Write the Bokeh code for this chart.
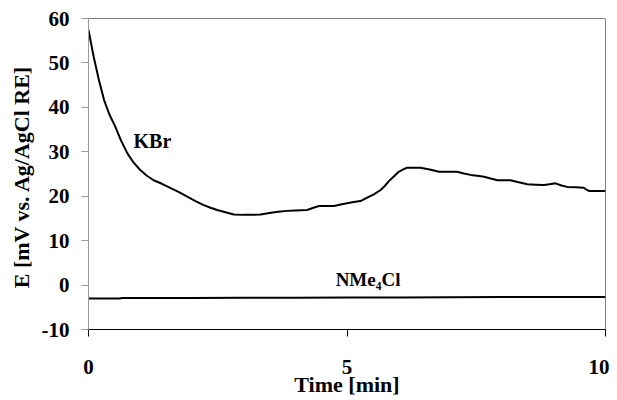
from bokeh.plotting import figure
from bokeh.models import Range1d, FixedTicker, Span, Label
from bokeh.embed import file_html
from bokeh.resources import INLINE

# KBr potential trace
kbr_time = [0, 0.1, 0.2, 0.3, 0.4, 0.52, 0.63, 0.75, 0.87, 1.0, 1.13, 1.26, 1.42, 1.59,
            1.75, 1.91, 2.07, 2.23, 2.36, 2.49, 2.65, 2.81, 3.0, 3.2, 3.33, 3.5, 3.67,
            3.84, 4.0, 4.23, 4.35, 4.46, 4.6, 4.75, 4.9, 5.0, 5.13, 5.26, 5.39, 5.52,
            5.65, 5.73, 5.81, 5.9, 6.0, 6.08, 6.16, 6.3, 6.42, 6.6, 6.78, 6.95, 7.13,
            7.26, 7.39, 7.52, 7.65, 7.78, 7.91, 8.05, 8.16, 8.3, 8.49, 8.65, 8.81, 8.92,
            9.03, 9.15, 9.26, 9.42, 9.58, 9.63, 9.68, 9.85, 10.0]
kbr_e = [57.4, 51.4, 46.2, 41.7, 38.5, 35.6, 32.5, 29.7, 27.6, 25.9, 24.6, 23.6, 22.8, 21.8,
         20.9, 19.9, 18.9, 18.0, 17.4, 16.9, 16.4, 15.9, 15.8, 15.8, 15.9, 16.2, 16.5,
         16.7, 16.8, 16.9, 17.4, 17.8, 17.8, 17.8, 18.2, 18.4, 18.7, 18.9, 19.7, 20.4,
         21.4, 22.3, 23.4, 24.4, 25.5, 26.0, 26.4, 26.4, 26.4, 26.0, 25.5, 25.5, 25.5,
         25.1, 24.8, 24.6, 24.4, 24.0, 23.6, 23.6, 23.6, 23.2, 22.7, 22.6, 22.5, 22.7,
         22.9, 22.4, 22.1, 22.0, 21.9, 21.5, 21.2, 21.2, 21.2]

# NMe4Cl potential trace
nme4cl_time = [0, 0.6, 0.65, 2, 3, 4, 5, 6, 7, 8, 9, 10]
nme4cl_e = [-3.0, -3.0, -2.9, -2.9, -2.85, -2.85, -2.8, -2.8, -2.75, -2.7, -2.7, -2.7]

x_ticks = [0, 5, 10]
y_ticks = [-10, 0, 10, 20, 30, 40, 50, 60]

FONT = "Liberation Serif"

p = figure(width=609, height=400, output_backend="svg", toolbar_location=None,
           x_range=Range1d(0, 10), y_range=Range1d(-10, 60),
           min_border_left=88, min_border_right=4, min_border_top=18, min_border_bottom=71)
p.outline_line_color = None
p.grid.grid_line_color = None
p.background_fill_color = "white"
p.border_fill_color = "white"

p.line(kbr_time, kbr_e, line_color="black", line_width=2)
p.line(nme4cl_time, nme4cl_e, line_color="black", line_width=2)

# frame top & right border
p.add_layout(Span(location=60, dimension="width", line_color="black", line_width=1))
p.add_layout(Span(location=10, dimension="height", line_color="black", line_width=1))

for ax in (p.xaxis[0], p.yaxis[0]):
    ax.major_label_text_font = FONT
    ax.major_label_text_font_style = "bold"
    ax.major_label_text_font_size = "21px"
    ax.major_label_text_color = "black"
    ax.axis_label_text_font = FONT
    ax.axis_label_text_font_style = "bold"
    ax.axis_label_text_font_size = "22px"
    ax.axis_label_text_color = "black"
    ax.minor_tick_line_color = None
    ax.major_tick_in = 0
    ax.major_tick_out = 7

p.xaxis.ticker = FixedTicker(ticks=x_ticks)
p.yaxis.ticker = FixedTicker(ticks=y_ticks)
p.yaxis.major_label_overrides = {-10: "-10"}
p.xaxis.axis_line_color = "black"
p.xaxis.major_tick_line_color = "black"
p.yaxis.axis_line_color = "#999999"
p.yaxis.major_tick_line_color = "#999999"
p.xaxis.major_label_standoff = 23
p.yaxis.major_label_standoff = 12
p.xaxis.axis_label = "Time [min]"
p.yaxis.axis_label = "E [mV vs.  Ag/AgCl RE]"
p.xaxis.axis_label_standoff = -5
p.yaxis.axis_label_standoff = 5

p.add_layout(Label(x=0.87, y=32.5, text="KBr", text_font=FONT, text_font_style="bold",
                   text_font_size="20px", text_baseline="middle", text_color="black"))
p.add_layout(Label(x=4.78, y=1.2, text="NMe\u2084Cl", text_font=FONT, text_font_style="bold",
                   text_font_size="19px", text_baseline="middle", text_color="black"))

open("out.html", "w").write(file_html(p, INLINE))
